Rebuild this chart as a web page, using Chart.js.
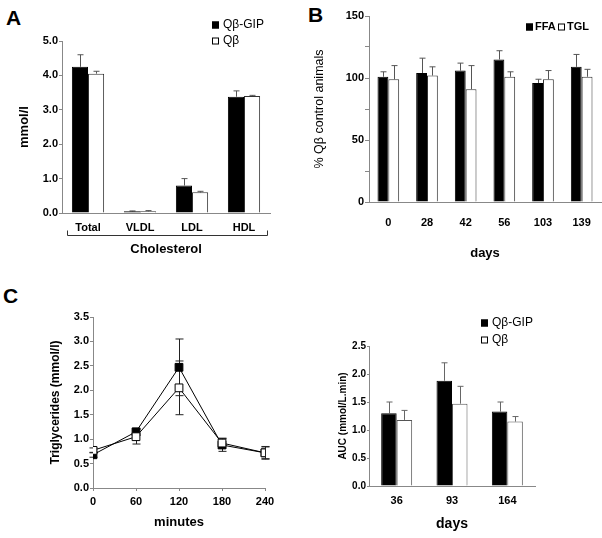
<!DOCTYPE html>
<html>
<head>
<meta charset="utf-8">
<script src="https://cdn.jsdelivr.net/npm/chart.js@4.4.1/dist/chart.umd.min.js"></script>
<style>
  body { margin: 0; background: #fff; width: 602px; height: 538px; position: relative; overflow: hidden; font-family: 'Liberation Sans', Arial, sans-serif; }
  canvas { position: absolute; }
  .tag { position: absolute; font-weight: bold; font-size: 21px; line-height: 1; }
</style>
</head>
<body>
<div class="tag" style="left:6px;top:7px">A</div>
<div class="tag" style="left:308px;top:4px">B</div>
<div class="tag" style="left:3px;top:285px">C</div>
<canvas id="chA" width="300" height="270" style="left:0;top:0"></canvas>
<canvas id="chB" width="302" height="270" style="left:300px;top:0"></canvas>
<canvas id="chC" width="300" height="268" style="left:0;top:270px"></canvas>
<canvas id="chD" width="302" height="268" style="left:300px;top:270px"></canvas>
<script>
// A: cholesterol fractions (mmol/l)
const cholCats = ['Total', 'VLDL', 'LDL', 'HDL'];
const cholGip = [4.25, 0.05, 0.80, 3.38];
const cholGipErr = [0.35, 0.01, 0.20, 0.17];
const cholQb = [4.05, 0.05, 0.60, 3.40];
const cholQbErr = [0.07, 0.02, 0.03, 0.02];

// B: % of Qb control animals
const dayCats = ['0', '28', '42', '56', '103', '139'];
const ffa = [101, 104, 106, 115, 96, 109];
const ffaErr = [4, 12, 6, 7, 3, 10];
const tgl = [99, 102, 91, 101, 99, 101];
const tglErr = [11, 7, 19, 4, 7, 6];

// C: triglycerides over time (mmol/l)
const minutes = [0, 60, 120, 180, 240];
const tgGip = [0.68, 1.15, 2.47, 0.88, 0.72];
const tgGipErr = [0.05, 0.07, 0.58, 0.13, 0.12];
const tgQb = [0.77, 1.05, 2.05, 0.92, 0.72];
const tgQbErr = [0.05, 0.15, 0.55, 0.10, 0.13];

// D: AUC (mmol/L.min)
const aucDays = ['36', '93', '164'];
const aucGip = [1.30, 1.88, 1.33];
const aucGipErr = [0.20, 0.32, 0.17];
const aucQb = [1.18, 1.47, 1.15];
const aucQbErr = [0.17, 0.31, 0.09];

Chart.defaults.font.family = "'Liberation Sans', Arial, sans-serif";
Chart.defaults.color = '#000';

const AXIS = '#888';
const BOLD = (size) => ({ size: size, weight: 'bold' });

// whiskers from each value, drawn under the markers
const errorBars = {
  id: 'errorBars',
  beforeDatasetsDraw(chart) {
    const o = chart.options.plugins.errorBars;
    if (!o || !o.cap) return;
    const ctx = chart.ctx;
    const ys = chart.scales.y;
    ctx.save();
    ctx.strokeStyle = o.color;
    ctx.lineWidth = 1;
    chart.data.datasets.forEach((ds, di) => {
      if (!ds.err) return;
      const meta = chart.getDatasetMeta(di);
      meta.data.forEach((el, i) => {
        const raw = ds.data[i];
        const v = typeof raw === 'object' ? raw.y : raw;
        const x = Math.round(el.x) + 0.5;
        const top = ys.getPixelForValue(v + ds.err[i]);
        const bot = o.both ? ys.getPixelForValue(v - ds.err[i]) : ys.getPixelForValue(v);
        const h = o.cap / 2;
        ctx.beginPath();
        ctx.moveTo(x, bot);
        ctx.lineTo(x, top);
        ctx.moveTo(x - h, top);
        ctx.lineTo(x + h, top);
        if (o.both) {
          ctx.moveTo(x - h, bot);
          ctx.lineTo(x + h, bot);
        }
        ctx.stroke();
      });
    });
    ctx.restore();
  }
};

// small square legend placed by hand
const boxLegend = {
  id: 'boxLegend',
  afterDraw(chart) {
    const o = chart.options.plugins.boxLegend;
    if (!o || !o.pos) return;
    const ctx = chart.ctx;
    ctx.save();
    ctx.font = o.font;
    ctx.textBaseline = 'middle';
    chart.data.datasets.forEach((ds, i) => {
      const [x, y] = o.pos[i];
      const s = o.size;
      ctx.fillStyle = ds.backgroundColor;
      ctx.fillRect(x, y - s / 2, s, s);
      ctx.strokeStyle = '#000';
      ctx.lineWidth = 1;
      ctx.strokeRect(x + 0.5, y - s / 2 + 0.5, s - 1, s - 1);
      ctx.fillStyle = '#000';
      ctx.fillText(ds.label, x + o.gap, y);
    });
    ctx.restore();
  }
};

Chart.register(errorBars, boxLegend);

const base = {
  responsive: false,
  animation: false,
  events: [],
};

// A
new Chart(document.getElementById('chA'), {
  type: 'bar',
  data: {
    labels: cholCats,
    datasets: [
      { label: 'Qβ-GIP', data: cholGip, err: cholGipErr, backgroundColor: '#000', borderColor: '#000', borderWidth: 1 },
      { label: 'Qβ', data: cholQb, err: cholQbErr, backgroundColor: '#fff', borderColor: '#333', borderWidth: 1 }
    ]
  },
  options: {
    ...base,
    layout: { padding: { top: 41, right: 30, left: 0, bottom: 0 } },
    datasets: { bar: { categoryPercentage: 0.62, barPercentage: 1 } },
    plugins: {
      legend: { display: false },
      tooltip: { enabled: false },
      errorBars: { color: '#555', cap: 6 },
      boxLegend: { pos: [[212, 25], [212, 41]], size: 7, gap: 11, font: "12px 'Liberation Sans', Arial, sans-serif" }
    },
    scales: {
      x: {
        grid: { display: false },
        border: { color: AXIS },
        ticks: { padding: 0, font: BOLD(11) },
        title: { display: true, text: 'Cholesterol', font: BOLD(13), padding: { bottom: 13 } },
        afterFit(s) { s.height = 57; }
      },
      y: {
        min: 0, max: 5,
        ticks: { stepSize: 1, padding: 1, font: BOLD(11), callback: v => v.toFixed(1) },
        grid: { drawOnChartArea: false, tickLength: 3, color: AXIS },
        border: { color: AXIS },
        title: { display: true, text: 'mmol/l', font: BOLD(13), padding: { top: 17 } },
        afterFit(s) { s.width = 62; }
      }
    }
  },
  plugins: [{
    id: 'bracket',
    afterDraw(chart) {
      const { ctx, chartArea } = chart;
      const l = chartArea.left + 5.5, r = chartArea.right - 2.5, y = chartArea.bottom + 22.5;
      ctx.save();
      ctx.strokeStyle = '#333';
      ctx.lineWidth = 1;
      ctx.beginPath();
      ctx.moveTo(l, y - 5);
      ctx.lineTo(l, y);
      ctx.lineTo(r, y);
      ctx.lineTo(r, y - 5);
      ctx.stroke();
      ctx.restore();
    }
  }]
});

// B
new Chart(document.getElementById('chB'), {
  type: 'bar',
  data: {
    labels: dayCats,
    datasets: [
      { label: 'FFA', data: ffa, err: ffaErr, backgroundColor: '#000', borderColor: '#000', borderWidth: 1 },
      { label: 'TGL', data: tgl, err: tglErr, backgroundColor: '#fff', borderColor: '#333', borderWidth: 1 }
    ]
  },
  options: {
    ...base,
    layout: { padding: { top: 16, right: 1, left: 0, bottom: 0 } },
    datasets: { bar: { categoryPercentage: 0.56, barPercentage: 1 } },
    plugins: {
      legend: { display: false },
      tooltip: { enabled: false },
      errorBars: { color: '#555', cap: 6 },
      boxLegend: { pos: [[226, 27], [258, 27]], size: 7, gap: 9, font: "bold 11px 'Liberation Sans', Arial, sans-serif" }
    },
    scales: {
      x: {
        grid: { display: false },
        border: { color: AXIS },
        ticks: { padding: 6, font: BOLD(11) },
        title: { display: true, text: 'days', font: BOLD(13), padding: { bottom: 9 } },
        afterFit(s) { s.height = 68; }
      },
      y: {
        min: 0, max: 150,
        ticks: { stepSize: 25, padding: 1, font: BOLD(11), callback: v => (v % 50 === 0 ? String(v) : '') },
        grid: { drawOnChartArea: false, tickLength: 4, color: AXIS },
        border: { color: AXIS },
        title: { display: true, text: '% Qβ control animals', font: { size: 12.5 }, padding: { top: 12 } },
        afterFit(s) { s.width = 69; }
      }
    }
  }
});

// C
new Chart(document.getElementById('chC'), {
  type: 'line',
  data: {
    datasets: [
      { label: 'Qβ', data: minutes.map((m, i) => ({ x: m, y: tgQb[i] })), err: tgQbErr, order: 0,
        borderColor: '#000', borderWidth: 1, backgroundColor: '#fff', pointStyle: 'rect', pointRadius: 5.5,
        pointBackgroundColor: '#fff', pointBorderColor: '#000', pointBorderWidth: 1 },
      { label: 'Qβ-GIP', data: minutes.map((m, i) => ({ x: m, y: tgGip[i] })), err: tgGipErr, order: 1,
        borderColor: '#000', borderWidth: 1, backgroundColor: '#000', pointStyle: 'rect', pointRadius: 5.5,
        pointBackgroundColor: '#000', pointBorderColor: '#000', pointBorderWidth: 1 }
    ]
  },
  options: {
    ...base,
    layout: { padding: { top: 47, right: 35, left: 0, bottom: 0 } },
    plugins: {
      legend: { display: false },
      tooltip: { enabled: false },
      errorBars: { color: '#222', cap: 8, both: true }
    },
    scales: {
      x: {
        type: 'linear', min: 0, max: 240,
        grid: { drawOnChartArea: false, tickLength: 3, color: AXIS },
        border: { color: AXIS },
        ticks: { stepSize: 60, padding: 4, font: BOLD(11) },
        title: { display: true, text: 'minutes', font: BOLD(13), padding: { bottom: 8 } },
        afterFit(s) { s.height = 50; }
      },
      y: {
        min: 0, max: 3.5,
        ticks: { stepSize: 0.5, padding: 1, font: BOLD(11), callback: v => v.toFixed(1) },
        grid: { drawOnChartArea: false, tickLength: 3, color: AXIS },
        border: { color: AXIS },
        title: { display: true, text: 'Triglycerides (mmol/l)', font: BOLD(12), padding: { top: 48 } },
        afterFit(s) { s.width = 93; }
      }
    }
  }
});

// D
new Chart(document.getElementById('chD'), {
  type: 'bar',
  data: {
    labels: aucDays,
    datasets: [
      { label: 'Qβ-GIP', data: aucGip, err: aucGipErr, backgroundColor: '#000', borderColor: '#000', borderWidth: 1 },
      { label: 'Qβ', data: aucQb, err: aucQbErr, backgroundColor: '#fff', borderColor: '#555', borderWidth: 1 }
    ]
  },
  options: {
    ...base,
    layout: { padding: { top: 76, right: 67, left: 0, bottom: 0 } },
    datasets: { bar: { categoryPercentage: 0.56, barPercentage: 1 } },
    plugins: {
      legend: { display: false },
      tooltip: { enabled: false },
      errorBars: { color: '#666', cap: 6 },
      boxLegend: { pos: [[181, 53], [181, 70]], size: 7, gap: 11, font: "12px 'Liberation Sans', Arial, sans-serif" }
    },
    scales: {
      x: {
        grid: { display: false },
        border: { color: AXIS },
        ticks: { padding: 0, font: BOLD(11) },
        title: { display: true, text: 'days', font: BOLD(14), padding: { bottom: 5 } },
        afterFit(s) { s.height = 52; }
      },
      y: {
        min: 0, max: 2.5,
        ticks: { stepSize: 0.5, padding: 1, font: BOLD(10), callback: v => v.toFixed(1) },
        grid: { drawOnChartArea: false, tickLength: 2, color: AXIS },
        border: { color: AXIS },
        title: { display: true, text: 'AUC (mmol/L.min)', font: BOLD(10), padding: { top: 37 } },
        afterFit(s) { s.width = 69; }
      }
    }
  }
});
</script>
</body>
</html>
